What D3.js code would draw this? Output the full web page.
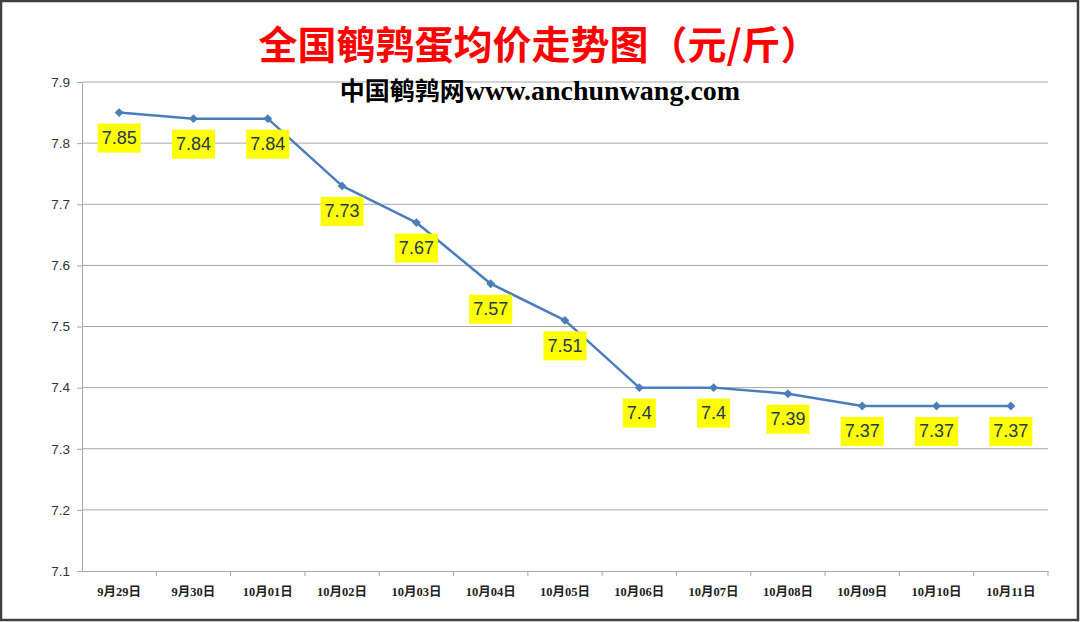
<!DOCTYPE html>
<html>
<head>
<meta charset="utf-8">
<script src="https://cdn.jsdelivr.net/npm/d3@7/dist/d3.min.js"></script>
<style>
  html, body { margin: 0; padding: 0; background: #fff; }
  svg { display: block; }
</style>
</head>
<body>
<div id="chart"></div>
<script>
'use strict';

// Daten
const dates = ['9月29日', '9月30日', '10月01日', '10月02日', '10月03日', '10月04日', '10月05日',
               '10月06日', '10月07日', '10月08日', '10月09日', '10月10日', '10月11日'];
const prices = [7.85, 7.84, 7.84, 7.73, 7.67, 7.57, 7.51, 7.4, 7.4, 7.39, 7.37, 7.37, 7.37];
const yTicks = [7.1, 7.2, 7.3, 7.4, 7.5, 7.6, 7.7, 7.8, 7.9];
const titleText = '全国鹌鹑蛋均价走势图（元/斤）';
const siteName = '中国鹌鹑网';
const siteUrl = 'www.anchunwang.com';

(function () {
  const width = 1080;
  const height = 622;
  const plot = { left: 82, right: 1048, top: 82, bottom: 571 };

  const svg = d3.select('#chart').append('svg')
    .attr('width', width)
    .attr('height', height);

  svg.append('rect')
    .attr('x', 1).attr('y', 1)
    .attr('width', width - 3).attr('height', height - 3)
    .attr('fill', '#fff')
    .attr('stroke', '#404040')
    .attr('stroke-width', 2.5);

  const x = d3.scaleBand().domain(dates).range([plot.left, plot.right]).padding(0);
  const y = d3.scaleLinear().domain([7.1, 7.9]).range([plot.bottom, plot.top]);
  const cx = d => x(d) + x.bandwidth() / 2;

  // Gitterlinien
  svg.append('g')
    .selectAll('line')
    .data(yTicks.slice(1))
    .join('line')
    .attr('x1', plot.left).attr('x2', plot.right)
    .attr('y1', d => y(d)).attr('y2', d => y(d))
    .attr('stroke', '#a6a6a6')
    .attr('stroke-width', 1);

  // Y-Achse
  const yAxis = svg.append('g')
    .attr('transform', `translate(${plot.left},0)`)
    .call(d3.axisLeft(y).tickValues(yTicks).tickFormat(d3.format('.1f')).tickSize(5).tickSizeOuter(0));
  yAxis.select('.domain').attr('stroke', '#a6a6a6');
  yAxis.selectAll('.tick line').attr('stroke', '#a6a6a6');
  yAxis.selectAll('.tick text')
    .attr('x', -12)
    .attr('fill', '#333')
    .style('font-family', '"Liberation Sans", Arial, sans-serif')
    .style('font-size', '13.5px');

  // X-Achse
  const xAxis = svg.append('g')
    .attr('transform', `translate(0,${plot.bottom})`)
    .call(d3.axisBottom(x).tickSize(0).tickSizeOuter(0));
  xAxis.select('.domain').attr('stroke', '#a6a6a6');
  xAxis.selectAll('.tick text')
    .attr('y', 16)
    .attr('fill', '#222')
    .style('font-family', '"Liberation Serif", "Noto Sans CJK SC", serif')
    .style('font-weight', 'bold')
    .style('font-size', '12.5px');

  // Teilstriche an den Kategoriegrenzen
  svg.append('g')
    .selectAll('line')
    .data(dates)
    .join('line')
    .attr('x1', d => x(d) + x.bandwidth()).attr('x2', d => x(d) + x.bandwidth())
    .attr('y1', plot.bottom).attr('y2', plot.bottom + 5)
    .attr('stroke', '#a6a6a6');

  // Linie
  const line = d3.line()
    .x((d, i) => cx(dates[i]))
    .y(d => y(d));

  svg.append('path')
    .datum(prices)
    .attr('d', line)
    .attr('fill', 'none')
    .attr('stroke', '#4a7ebb')
    .attr('stroke-width', 2.5)
    .attr('stroke-linejoin', 'round');

  svg.append('g')
    .selectAll('path')
    .data(prices)
    .join('path')
    .attr('d', d3.symbol().type(d3.symbolDiamond2).size(50))
    .attr('transform', (d, i) => `translate(${cx(dates[i])},${y(d)})`)
    .attr('fill', '#4a7ebb');

  // Datenbeschriftungen mit gelbem Hintergrund
  const labels = svg.append('g')
    .selectAll('g')
    .data(prices)
    .join('g')
    .attr('transform', (d, i) => `translate(${cx(dates[i])},${y(d) + 25})`);

  labels.append('text')
    .attr('text-anchor', 'middle')
    .attr('dy', '0.36em')
    .attr('fill', '#243a55')
    .style('font-family', '"Liberation Sans", Arial, sans-serif')
    .style('font-size', '18px')
    .text(d => String(d));

  labels.each(function () {
    const g = d3.select(this);
    const bb = g.select('text').node().getBBox();
    g.insert('rect', 'text')
      .attr('x', bb.x - 4).attr('y', -14)
      .attr('width', bb.width + 8).attr('height', 29)
      .attr('fill', '#ffff00');
  });

  // Titel
  svg.append('text')
    .attr('x', 539).attr('y', 59)
    .attr('text-anchor', 'middle')
    .attr('fill', '#ff0000')
    .style('font-family', '"Noto Sans CJK SC", sans-serif')
    .style('font-weight', 'bold')
    .style('font-size', '39px')
    .text(titleText);

  const sub = svg.append('text')
    .attr('x', 540).attr('y', 100)
    .attr('text-anchor', 'middle')
    .attr('fill', '#000');
  sub.append('tspan')
    .style('font-family', '"Noto Sans CJK SC", sans-serif')
    .style('font-weight', 'bold')
    .style('font-size', '25px')
    .text(siteName);
  sub.append('tspan')
    .style('font-family', '"Liberation Serif", serif')
    .style('font-weight', 'bold')
    .style('font-size', '28px')
    .text(siteUrl);
})();
</script>
</body>
</html>
